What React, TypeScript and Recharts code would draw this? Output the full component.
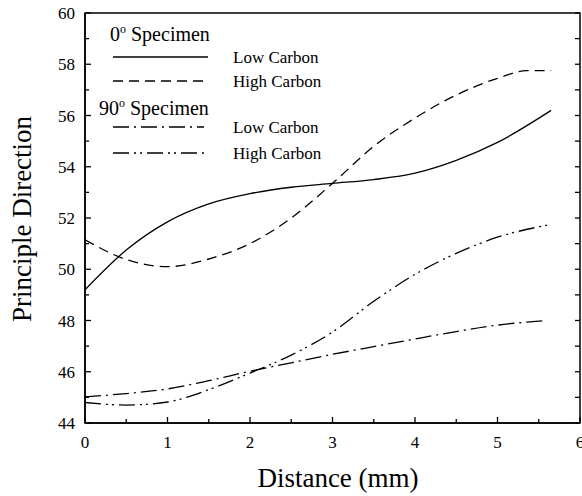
import React from 'react';
import { LineChart, Line, XAxis, YAxis, usePlotArea } from 'recharts';

// 0° specimen, low carbon (solid)
const xLow0 = [0, 0.5, 1, 1.5, 2, 2.5, 3, 3.5, 4, 4.5, 5, 5.65];
const yLow0 = [49.2, 50.75, 51.85, 52.55, 52.95, 53.2, 53.35, 53.5, 53.75, 54.25, 54.95, 56.2];

// 0° specimen, high carbon (dashed)
const xHigh0 = [0, 0.5, 1, 1.5, 2, 2.5, 3, 3.5, 4, 4.5, 5, 5.35, 5.65];
const yHigh0 = [51.15, 50.38, 50.1, 50.4, 51.0, 52.0, 53.35, 54.8, 55.9, 56.8, 57.45, 57.75, 57.75];

// 90° specimen, low carbon (dash-dot)
const xLow90 = [0, 0.5, 1, 1.5, 2, 2.5, 3, 3.5, 4, 4.5, 5, 5.6];
const yLow90 = [45.02, 45.15, 45.33, 45.65, 46.02, 46.35, 46.68, 46.98, 47.28, 47.57, 47.82, 48.0];

// 90° specimen, high carbon (dash-dot-dot)
const xHigh90 = [0, 0.5, 1, 1.5, 2, 2.5, 3, 3.5, 4, 4.5, 5, 5.65];
const yHigh90 = [44.8, 44.7, 44.82, 45.3, 45.95, 46.65, 47.55, 48.75, 49.8, 50.62, 51.25, 51.75];

const xTicks = [0, 0.5, 1, 1.5, 2, 2.5, 3, 3.5, 4, 4.5, 5, 5.5, 6];
const yTicks = [44, 45, 46, 47, 48, 49, 50, 51, 52, 53, 54, 55, 56, 57, 58, 59, 60];

const xLabel = 'Distance (mm)';
const yLabel = 'Principle Direction';
const group0 = ' Specimen';
const lowLabel = 'Low Carbon';
const highLabel = 'High Carbon';

const toRows = (xs: number[], ys: number[]) => xs.map((x, i) => ({ x, y: ys[i] }));

const FONT = "'Liberation Serif', 'Times New Roman', serif";
const serif = { fontFamily: FONT };

const LeftTick = (props: any) => {
  const { x, y, payload } = props;
  const area = usePlotArea();
  const v = payload.value;
  const major = v % 2 === 0;
  const ax = x + 10;
  const rx = area ? area.x + area.width : null;
  return (
    <g>
      <line x1={ax} x2={ax + (major ? 6 : 4)} y1={y} y2={y} stroke="#000" strokeWidth={1.3} />
      {rx !== null && <line x1={rx} x2={rx - 5} y1={y} y2={y} stroke="#000" strokeWidth={1.3} />}
      {major && (
        <text x={x} y={y} dy="0.355em" textAnchor="end" style={serif} fontSize={17} fill="#000">
          {v}
        </text>
      )}
    </g>
  );
};

const BottomTick = (props: any) => {
  const { x, y, payload } = props;
  const v = payload.value;
  const major = Number.isInteger(v);
  const ay = y - 13;
  return (
    <g>
      <line x1={x} x2={x} y1={ay} y2={ay - (major ? 6 : 4)} stroke="#000" strokeWidth={1.3} />
      {major && (
        <text x={x} y={y} dy="0.71em" textAnchor="middle" style={serif} fontSize={17} fill="#000">
          {v}
        </text>
      )}
    </g>
  );
};

const Frame = () => {
  const area = usePlotArea();
  if (!area) return null;
  return (
    <rect x={area.x} y={area.y} width={area.width} height={area.height} fill="none" stroke="#000" strokeWidth={1.5} />
  );
};

const Legend = () => (
  <g style={serif} fill="#000">
    <text x={110} y={41} fontSize={20} style={serif}>
      <tspan>0</tspan>
      <tspan dy={-8} fontSize={12}>o</tspan>
      <tspan dy={8}>{group0}</tspan>
    </text>
    <line x1={113} x2={208} y1={57} y2={57} stroke="#000" strokeWidth={1.3} />
    <text x={233} y={63} fontSize={17} style={serif}>{lowLabel}</text>
    <line x1={113} x2={208} y1={81} y2={81} stroke="#000" strokeWidth={1.3} strokeDasharray="10 6" />
    <text x={233} y={87} fontSize={17} style={serif}>{highLabel}</text>
    <text x={99} y={115} fontSize={20} style={serif}>
      <tspan>90</tspan>
      <tspan dy={-8} fontSize={12}>o</tspan>
      <tspan dy={8}>{group0}</tspan>
    </text>
    <line x1={113} x2={204} y1={127} y2={127} stroke="#000" strokeWidth={1.3} strokeDasharray="16 5 2 5" />
    <text x={233} y={133} fontSize={17} style={serif}>{lowLabel}</text>
    <line x1={113} x2={208} y1={153} y2={153} stroke="#000" strokeWidth={1.3} strokeDasharray="16 5 2 4 2 5" />
    <text x={233} y={159} fontSize={17} style={serif}>{highLabel}</text>
    <text x={338} y={487} fontSize={27} textAnchor="middle" style={serif}>{xLabel}</text>
    <text x={31} y={219} fontSize={27} textAnchor="middle" style={serif} transform="rotate(-90, 31, 219)">{yLabel}</text>
  </g>
);

export default function App() {
  return (
    <div style={{ position: 'absolute', left: 0, top: 0, background: '#fff' }}>
      <LineChart width={582} height={496} margin={{ top: 13, right: 2, bottom: 0, left: 0 }}>
        <XAxis
          dataKey="x"
          type="number"
          domain={[0, 6]}
          ticks={xTicks}
          interval={0}
          height={73}
          tickSize={0}
          tickMargin={13}
          tickLine={false}
          tick={<BottomTick />}
          axisLine={{ stroke: '#000', strokeWidth: 1.5 }}
          allowDataOverflow
        />
        <YAxis
          type="number"
          domain={[44, 60]}
          ticks={yTicks}
          interval={0}
          width={85}
          tickSize={0}
          tickMargin={10}
          tickLine={false}
          tick={<LeftTick />}
          axisLine={{ stroke: '#000', strokeWidth: 1.5 }}
          allowDataOverflow
        />
        <Line data={toRows(xLow0, yLow0)} dataKey="y" type="monotone" dot={false} stroke="#000" strokeWidth={1.3} isAnimationActive={false} />
        <Line data={toRows(xHigh0, yHigh0)} dataKey="y" type="monotone" dot={false} stroke="#000" strokeWidth={1.3} strokeDasharray="10 6" isAnimationActive={false} />
        <Line data={toRows(xLow90, yLow90)} dataKey="y" type="monotone" dot={false} stroke="#000" strokeWidth={1.3} strokeDasharray="16 5 2 5" isAnimationActive={false} />
        <Line data={toRows(xHigh90, yHigh90)} dataKey="y" type="monotone" dot={false} stroke="#000" strokeWidth={1.3} strokeDasharray="16 5 2 4 2 5" isAnimationActive={false} />
        <Frame />
        <Legend />
      </LineChart>
    </div>
  );
}
